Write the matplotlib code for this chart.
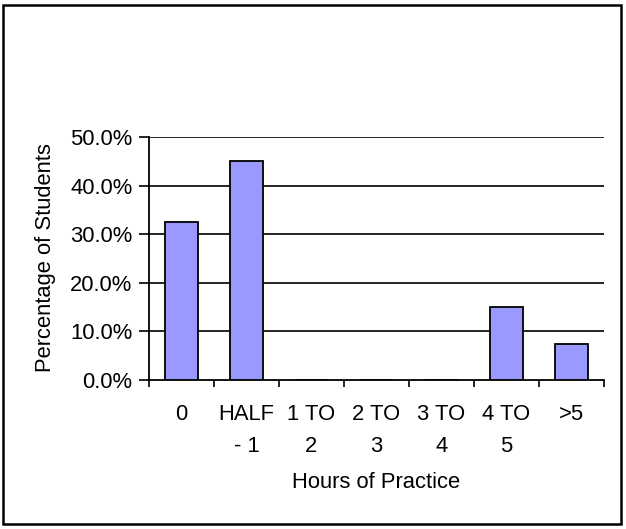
import matplotlib
matplotlib.use("Agg")
import matplotlib.pyplot as plt
from matplotlib.patches import Rectangle
from matplotlib.ticker import FuncFormatter, FixedLocator

categories = ["0", "HALF\n- 1", "1 TO\n2", "2 TO\n3", "3 TO\n4", "4 TO\n5", ">5"]
percentages = [32.5, 45.0, 0.0, 0.0, 0.0, 15.0, 7.5]
y_ticks = [0, 10, 20, 30, 40, 50]

W, H = 626, 529
plt.rcParams["font.family"] = ["Liberation Sans", "DejaVu Sans"]
FS = 15.8

fig = plt.figure(figsize=(W / 100, H / 100), dpi=100)
fig.patch.set_facecolor("white")

# outer chart border
fig.patches.append(Rectangle((3 / W, 1 - 524 / H), 618 / W, 519 / H,
                             transform=fig.transFigure, fill=False,
                             edgecolor="black", linewidth=1.8))

ax = fig.add_axes([149 / W, 1 - 380 / H, 455 / W, 243 / H])
ax.set_facecolor("white")

n = len(categories)
centers = [i + 0.5 for i in range(n)]
ax.bar(centers, percentages, width=0.52, color="#9999FF",
       edgecolor="black", linewidth=1.3, zorder=3)

ax.set_xlim(0, n)
ax.set_ylim(0, 50)

for y in y_ticks[1:]:
    ax.axhline(y, color="black", linewidth=1.2, zorder=1)

ax.set_yticks(y_ticks)
ax.yaxis.set_major_formatter(FuncFormatter(lambda v, _: f"{v:.1f}%"))
ax.tick_params(axis="y", direction="out", length=7, width=1.2,
               labelsize=FS, pad=5)

ax.xaxis.set_major_locator(FixedLocator(list(range(n + 1))))
ax.set_xticklabels([])
ax.tick_params(axis="x", which="major", direction="out", length=5, width=1.2)
ax.xaxis.set_minor_locator(FixedLocator(centers))
ax.set_xticklabels(categories, minor=True, fontsize=FS, linespacing=1.72)
ax.tick_params(axis="x", which="minor", length=0, pad=17)

for side in ("top", "right"):
    ax.spines[side].set_visible(False)
for side in ("left", "bottom"):
    ax.spines[side].set_linewidth(1.3)

fig.text(46 / W, 1 - 258 / H, "Percentage of Students", rotation=90,
         ha="center", va="center", fontsize=FS)
fig.text(376.5 / W, 1 - 483 / H, "Hours of Practice",
         ha="center", va="center", fontsize=FS)

fig.savefig("out.png", dpi=100)
plt.close(fig)
